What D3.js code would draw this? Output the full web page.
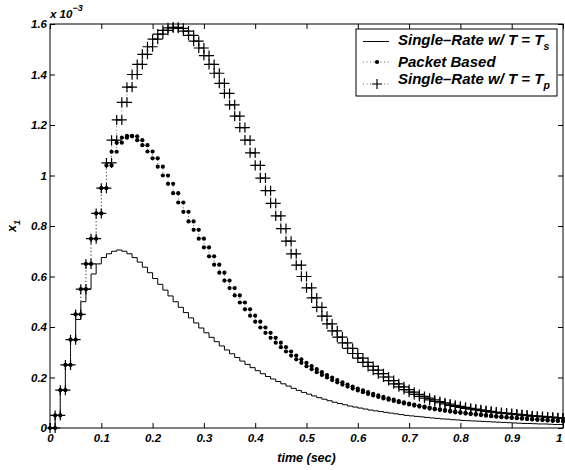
<!DOCTYPE html>
<html>
<head>
<meta charset="utf-8">
<script src="https://cdn.jsdelivr.net/npm/d3@7"></script>
<style>
  body { margin: 0; background: #fff; }
  svg { display: block; }
  text { font-family: "Liberation Sans", Arial, sans-serif; font-weight: bold; font-style: italic; }
</style>
</head>
<body>
<svg id="canvas"></svg>
<script>
// sample step of the plotted signals (sec)
const step = 0.01;

const xTicks = [0, 0.1, 0.2, 0.3, 0.4, 0.5, 0.6, 0.7, 0.8, 0.9, 1];
const yTicks = [0, 0.2, 0.4, 0.6, 0.8, 1, 1.2, 1.4, 1.6];

// values in units of 1e-3
const singleRateTs = [
  0, 0.05, 0.15, 0.25, 0.35, 0.43, 0.50, 0.55, 0.61, 0.65,
  0.675, 0.69, 0.70, 0.705, 0.70, 0.69, 0.675, 0.657, 0.637, 0.615,
  0.592, 0.569, 0.546, 0.523, 0.50, 0.478, 0.457, 0.436, 0.416, 0.396,
  0.377, 0.359, 0.342, 0.325, 0.309, 0.294, 0.279, 0.265, 0.252, 0.239,
  0.227, 0.215, 0.204, 0.194, 0.184, 0.175, 0.166, 0.157, 0.149, 0.141,
  0.134, 0.127, 0.120, 0.114, 0.108, 0.102, 0.097, 0.092, 0.087, 0.083,
  0.079, 0.075, 0.071, 0.068, 0.065, 0.062, 0.059, 0.056, 0.053, 0.050,
  0.048, 0.046, 0.044, 0.042, 0.040, 0.038, 0.036, 0.035, 0.033, 0.032,
  0.030, 0.029, 0.028, 0.027, 0.026, 0.025, 0.024, 0.023, 0.022, 0.021,
  0.020, 0.019, 0.018, 0.018, 0.017, 0.016, 0.016, 0.015, 0.014, 0.014,
  0.013
];

const packetBased = [
  0, 0.05, 0.15, 0.25, 0.35, 0.45, 0.55, 0.65, 0.75, 0.85,
  0.95, 1.04, 1.094, 1.13, 1.15, 1.157, 1.155, 1.14, 1.12, 1.095,
  1.068, 1.035, 1.0, 0.967, 0.93, 0.893, 0.856, 0.818, 0.785, 0.75,
  0.715, 0.68, 0.647, 0.615, 0.584, 0.554, 0.525, 0.497, 0.47, 0.445,
  0.421, 0.398, 0.377, 0.357, 0.338, 0.32, 0.303, 0.287, 0.272, 0.258,
  0.245, 0.233, 0.221, 0.21, 0.2, 0.19, 0.181, 0.172, 0.164, 0.156,
  0.149, 0.142, 0.135, 0.129, 0.123, 0.117, 0.112, 0.107, 0.102, 0.097,
  0.093, 0.089, 0.085, 0.081, 0.077, 0.074, 0.071, 0.068, 0.065, 0.062,
  0.06, 0.057, 0.055, 0.053, 0.051, 0.049, 0.047, 0.045, 0.043, 0.042,
  0.04, 0.039, 0.037, 0.036, 0.034, 0.033, 0.032, 0.03, 0.029, 0.028,
  0.027
];

const singleRateTp = [
  0, 0.05, 0.15, 0.25, 0.35, 0.45, 0.55, 0.65, 0.75, 0.85,
  0.95, 1.05, 1.14, 1.22, 1.29, 1.35, 1.40, 1.44, 1.48, 1.51,
  1.54, 1.56, 1.575, 1.585, 1.587, 1.583, 1.572, 1.555, 1.532, 1.505,
  1.475, 1.44, 1.405, 1.365, 1.325, 1.28, 1.235, 1.19, 1.14, 1.09,
  1.04, 0.99, 0.94, 0.89, 0.84, 0.79, 0.74, 0.69, 0.645, 0.6,
  0.555, 0.515, 0.478, 0.443, 0.412, 0.385, 0.36, 0.337, 0.315, 0.295,
  0.277, 0.26, 0.244, 0.229, 0.215, 0.202, 0.188, 0.175, 0.163, 0.152,
  0.142, 0.133, 0.125, 0.118, 0.111, 0.105, 0.1, 0.095, 0.09, 0.086,
  0.082, 0.078, 0.075, 0.072, 0.069, 0.066, 0.063, 0.061, 0.059, 0.057,
  0.055, 0.053, 0.051, 0.049, 0.047, 0.046, 0.044, 0.043, 0.041, 0.04,
  0.039
];

const w = 565;
const h = 470;
const plotL = 50, plotR = 563, plotT = 24, plotB = 428;

const svg = d3.select('#canvas').attr('width', w).attr('height', h);

const x = d3.scaleLinear().domain([0, 1]).range([plotL, plotR]);
const y = d3.scaleLinear().domain([0, 1.6]).range([plotB, plotT]);

// stairs: every sample held until the next one
const toPoints = (vals) => vals.map((v, i) => [i * step, v]);
const corners = (vals) => {
  const pts = [];
  vals.forEach((v, i) => {
    pts.push([i * step, v]);
    if (i < vals.length - 1) pts.push([(i + 1) * step, v]);
  });
  return pts;
};
const stairs = d3.line()
  .x((d) => x(d[0]))
  .y((d) => y(d[1]))
  .curve(d3.curveStepAfter);

// box
svg.append('rect')
  .attr('x', plotL).attr('y', plotT)
  .attr('width', plotR - plotL).attr('height', plotB - plotT)
  .attr('fill', 'none').attr('stroke', '#000').attr('stroke-width', 1);

const fmt = (d) => (d === 0 || d === 1 ? d3.format('d')(d) : d3.format('.1f')(d));

const xAxis = d3.axisBottom(x).tickValues(xTicks).tickFormat(fmt).tickSizeInner(-5).tickSizeOuter(0).tickPadding(6);
const yAxis = d3.axisLeft(y).tickValues(yTicks).tickFormat(fmt).tickSizeInner(-5).tickSizeOuter(0).tickPadding(3);
const xTop = d3.axisTop(x).tickValues(xTicks).tickFormat('').tickSizeInner(-5).tickSizeOuter(0);
const yRight = d3.axisRight(y).tickValues(yTicks).tickFormat('').tickSizeInner(-5).tickSizeOuter(0);

const styleAxis = (g) => {
  g.select('.domain').remove();
  g.selectAll('line').attr('stroke', '#000');
  g.selectAll('text')
    .attr('fill', '#000')
    .style('font-size', '11.5px')
    .style('font-family', '"Liberation Sans", Arial, sans-serif')
    .style('font-weight', 'bold')
    .style('font-style', 'italic');
};

svg.append('g').attr('id', 'x-axis').attr('transform', 'translate(0,' + plotB + ')').call(xAxis).call(styleAxis);
svg.append('g').attr('id', 'y-axis').attr('transform', 'translate(' + plotL + ',0)').call(yAxis).call(styleAxis);
svg.append('g').attr('transform', 'translate(0,' + plotT + ')').call(xTop).call(styleAxis);
svg.append('g').attr('transform', 'translate(' + plotR + ',0)').call(yRight).call(styleAxis);

// last x label sits against the right edge
svg.select('#x-axis').selectAll('.tick text').filter((d) => d === 1).attr('text-anchor', 'end').attr('dx', '-0.1em');

// exponent label
const expo = svg.append('text').attr('x', 50).attr('y', 18).style('font-size', '11.5px');
expo.append('tspan').text('x 10');
expo.append('tspan').attr('dy', -7).style('font-size', '9px').text('\u22123');

// axis titles
svg.append('text')
  .attr('x', x(0.5)).attr('y', 462)
  .attr('text-anchor', 'middle')
  .style('font-size', '12.5px')
  .text('time (sec)');

const yl = svg.append('text')
  .attr('transform', 'translate(16,' + ((plotT + plotB) / 2) + ') rotate(-90)')
  .attr('text-anchor', 'middle')
  .style('font-size', '12.5px');
yl.append('tspan').text('x');
yl.append('tspan').attr('dy', 4).style('font-size', '9px').text('1');

// series 1: solid stairs
svg.append('path')
  .datum(toPoints(singleRateTs))
  .attr('d', stairs)
  .attr('fill', 'none')
  .attr('stroke', '#000')
  .attr('stroke-width', 1);

// series 2: dotted stairs with dots
svg.append('path')
  .datum(toPoints(packetBased))
  .attr('d', stairs)
  .attr('fill', 'none')
  .attr('stroke', '#444')
  .attr('stroke-width', 0.8)
  .attr('stroke-dasharray', '1,2.5');

svg.append('g')
  .selectAll('circle')
  .data(corners(packetBased))
  .enter()
  .append('circle')
  .attr('cx', (d) => x(d[0]))
  .attr('cy', (d) => y(d[1]))
  .attr('r', 2.1)
  .attr('fill', '#000');

// series 3: dotted stairs with plus markers
svg.append('path')
  .datum(toPoints(singleRateTp))
  .attr('d', stairs)
  .attr('fill', 'none')
  .attr('stroke', '#444')
  .attr('stroke-width', 0.8)
  .attr('stroke-dasharray', '1,2.5');

const plusPath = (cx, cy, r) => 'M' + (cx - r) + ',' + cy + 'H' + (cx + r) + 'M' + cx + ',' + (cy - r) + 'V' + (cy + r);

svg.append('g')
  .selectAll('path')
  .data(corners(singleRateTp))
  .enter()
  .append('path')
  .attr('d', (d) => plusPath(x(d[0]), y(d[1]), 5))
  .attr('stroke', '#000')
  .attr('stroke-width', 1.2)
  .attr('fill', 'none');

// legend
const lg = svg.append('g');
lg.append('rect')
  .attr('x', 356).attr('y', 29).attr('width', 201).attr('height', 67)
  .attr('fill', '#fff').attr('stroke', '#000').attr('stroke-width', 1);

lg.append('line').attr('x1', 363).attr('x2', 389).attr('y1', 41.5).attr('y2', 41.5)
  .attr('stroke', '#000').attr('stroke-width', 1);
lg.append('line').attr('x1', 363).attr('x2', 389).attr('y1', 62).attr('y2', 62)
  .attr('stroke', '#444').attr('stroke-width', 0.8).attr('stroke-dasharray', '1,2.5');
lg.append('circle').attr('cx', 377).attr('cy', 62).attr('r', 2.1).attr('fill', '#000');
lg.append('line').attr('x1', 363).attr('x2', 389).attr('y1', 84).attr('y2', 84)
  .attr('stroke', '#444').attr('stroke-width', 0.8).attr('stroke-dasharray', '1,2.5');
lg.append('path').attr('d', plusPath(377, 84, 5)).attr('stroke', '#000').attr('stroke-width', 1.2).attr('fill', 'none');

const t1 = lg.append('text').attr('x', 398).attr('y', 45).style('font-size', '15px');
t1.append('tspan').text('Single\u2013Rate w/ T = T');
t1.append('tspan').attr('dy', 5).style('font-size', '10.5px').text('s');

lg.append('text').attr('x', 398).attr('y', 67).style('font-size', '15px').text('Packet Based');

const t3 = lg.append('text').attr('x', 398).attr('y', 83.5).style('font-size', '15px');
t3.append('tspan').text('Single\u2013Rate w/ T = T');
t3.append('tspan').attr('dy', 5).style('font-size', '10.5px').text('p');
</script>
</body>
</html>
